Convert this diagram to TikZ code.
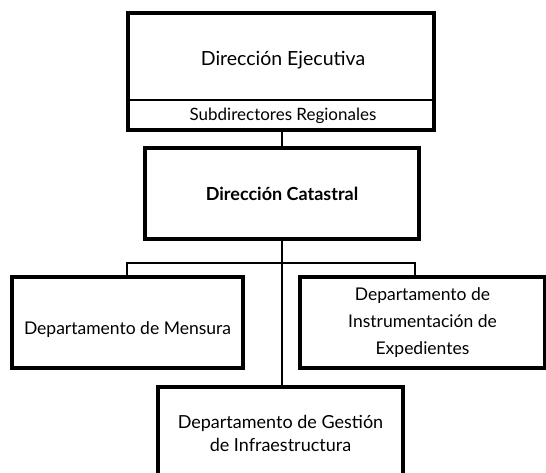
\documentclass[tikz,border=0pt]{standalone}
\usepackage{fontspec}
\setmainfont{Lato}
\usetikzlibrary{positioning,calc}
\begin{document}
\begin{tikzpicture}[x=1pt,y=-1pt,
  box/.style={draw=black,line width=3.5pt,rectangle,inner sep=0pt,align=center,fill=white},
  plain/.style={rectangle,inner sep=0pt,align=center},
  conn/.style={draw=black,line width=1.5pt},
  every node/.style={font=\fontsize{17.5}{27}\selectfont}]
\useasboundingbox (0,0) rectangle (546,472);
\clip (0,0) rectangle (546,472);
% top box with divider
\node[plain,minimum width=306pt,minimum height=87pt] (exec) at (281,56.5) {};
\node[plain,minimum width=306pt,minimum height=30pt] (sub) at (281,115) {};
\node[plain,font=\fontsize{19.5}{24}\selectfont] (exect) at (283,60) {Dirección Ejecutiva};
\node[plain,font=\fontsize{17}{20}\selectfont] (subt) at (283,116) {Subdirectores Regionales};
\draw[line width=2.5pt] (sub.north west) -- (sub.north east);
\draw[line width=3.5pt] (exec.north west) rectangle (sub.south east);
% Dirección Catastral
\node[box,minimum width=274pt,minimum height=91pt,font=\fontsize{18}{22}\bfseries\selectfont] (cat) at (282,193.5) {Dirección Catastral};
% departments
\node[box,minimum width=231pt,minimum height=91pt] (mens) at (127.5,322.5) {};
\node[plain] (menst) at (127.5,330) {Departamento de Mensura};
\node[box,minimum width=245pt,minimum height=91pt] (inst) at (422.5,322.5) {Departamento de\\Instrumentación de\\Expedientes};
\node[box,minimum width=245pt,minimum height=92pt,font=\fontsize{18}{23}\selectfont] (gest) at (280.5,433) {Departamento de Gestión\\de Infraestructura};
% connectors
\coordinate (barL) at (127,263);
\coordinate (barR) at (415,263);
\draw[conn] (sub.south -| cat.north) -- (cat.north);
\draw[conn] (cat.south) -- (cat.south |- gest.north);
\draw[conn] (mens.north -| barL) -- (barL) -- (barR) -- (barR |- inst.north);
\end{tikzpicture}
\end{document}
